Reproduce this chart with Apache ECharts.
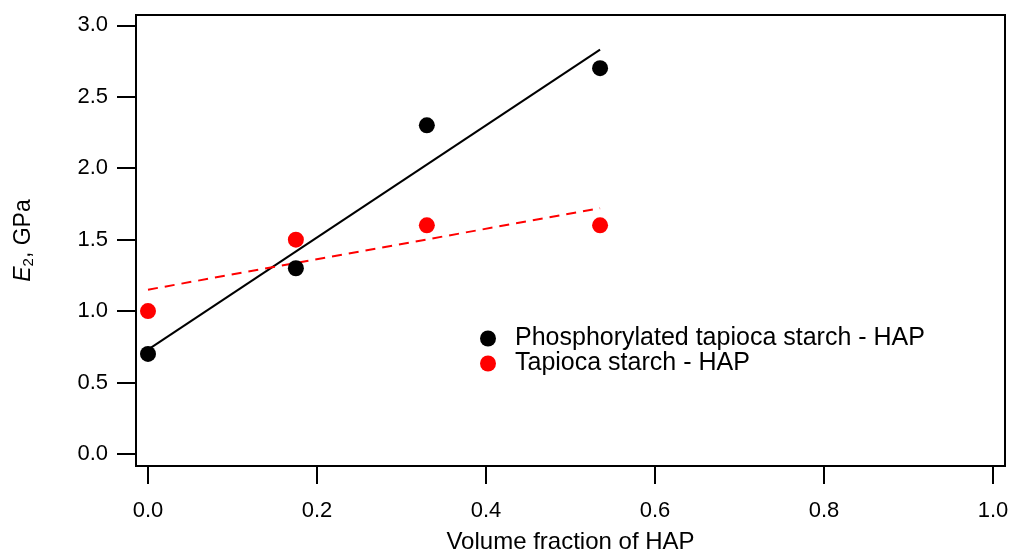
<!DOCTYPE html>
<html>
<head>
<meta charset="utf-8">
<script src="https://cdn.jsdelivr.net/npm/echarts@6/dist/echarts.min.js"></script>
<style>
  html, body { margin: 0; padding: 0; background: #fff; }
  #chart { width: 1011px; height: 551px; }
</style>
</head>
<body>
<div id="chart"></div>
<script>
// data
const xTicks = [0, 0.2, 0.4, 0.6, 0.8, 1.0]
const yTicks = [0, 0.5, 1.0, 1.5, 2.0, 2.5, 3.0]
const volFrac = [0, 0.175, 0.33, 0.535]
const phosphorylated = [0.7, 1.3, 2.3, 2.7]
const tapioca = [1.0, 1.5, 1.6, 1.6]
// fitted lines, end points
const phosFitX = [0, 0.535]
const phosFitY = [0.73, 2.83]
const tapFitX = [0, 0.535]
const tapFitY = [1.15, 1.72]

const pairs = (xs, ys) => xs.map((x, i) => [x, ys[i]])
const font = 'Liberation Sans, Arial, sans-serif'

const chart = echarts.init(document.getElementById('chart'))
const option = {
  animation: false,
  textStyle: { fontFamily: font },
  grid: {
    left: 136,
    right: 6,
    top: 15,
    bottom: 85,
    outerBoundsMode: 'none',
    show: true,
    borderColor: '#000',
    borderWidth: 2,
    backgroundColor: 'transparent'
  },
  legend: {
    orient: 'vertical',
    left: 475,
    top: 321,
    icon: 'circle',
    itemWidth: 16,
    itemHeight: 16,
    itemGap: 0,
    data: ['Phosphorylated tapioca starch - HAP', 'Tapioca starch - HAP'],
    textStyle: { color: '#000', fontSize: 25, lineHeight: 25, fontFamily: font, padding: [0, 0, 0, 14] }
  },
  xAxis: {
    type: 'value',
    min: -0.0142,
    max: 1.0142,
    name: 'Volume fraction of HAP',
    nameLocation: 'middle',
    nameGap: 64,
    nameTextStyle: { color: '#000', fontSize: 24, fontFamily: font },
    axisLine: { show: false, onZero: false },
    splitLine: { show: false },
    axisTick: { show: true, length: 18, lineStyle: { color: '#000', width: 2 }, customValues: xTicks },
    axisLabel: {
      color: '#000', fontSize: 22, margin: 34, fontFamily: font,
      customValues: xTicks,
      formatter: v => v.toFixed(1)
    }
  },
  yAxis: {
    type: 'value',
    min: -0.084,
    max: 3.072,
    name: '{i|E}{s|2}{n|, GPa}',
    nameLocation: 'middle',
    nameGap: 100,
    nameRotate: 90,
    nameTextStyle: {
      color: '#000',
      rich: {
        i: { fontSize: 23, fontStyle: 'italic', fontFamily: font, color: '#000' },
        s: { fontSize: 15, fontFamily: font, color: '#000', verticalAlign: 'bottom', padding: [10, 0, 0, 0] },
        n: { fontSize: 23, fontFamily: font, color: '#000' }
      }
    },
    axisLine: { show: false, onZero: false },
    splitLine: { show: false },
    axisTick: { show: true, length: 19, lineStyle: { color: '#000', width: 2 }, customValues: yTicks },
    axisLabel: {
      color: '#000', fontSize: 22, margin: 28, fontFamily: font,
      customValues: yTicks,
      formatter: v => v.toFixed(1)
    }
  },
  series: [
    {
      name: 'phos fit',
      type: 'line',
      data: pairs(phosFitX, phosFitY),
      showSymbol: false,
      lineStyle: { color: '#000', width: 2 },
      z: 1
    },
    {
      name: 'tap fit',
      type: 'line',
      data: pairs(tapFitX, tapFitY),
      showSymbol: false,
      lineStyle: { color: '#ff0000', width: 2, type: [10, 7] },
      z: 1
    },
    {
      name: 'Phosphorylated tapioca starch - HAP',
      type: 'scatter',
      data: pairs(volFrac, phosphorylated),
      symbolSize: 16,
      itemStyle: { color: '#000', opacity: 1 },
      z: 3
    },
    {
      name: 'Tapioca starch - HAP',
      type: 'scatter',
      data: pairs(volFrac, tapioca),
      symbolSize: 16,
      itemStyle: { color: '#ff0000', opacity: 1 },
      z: 3
    }
  ]
}
chart.setOption(option)
</script>
</body>
</html>
